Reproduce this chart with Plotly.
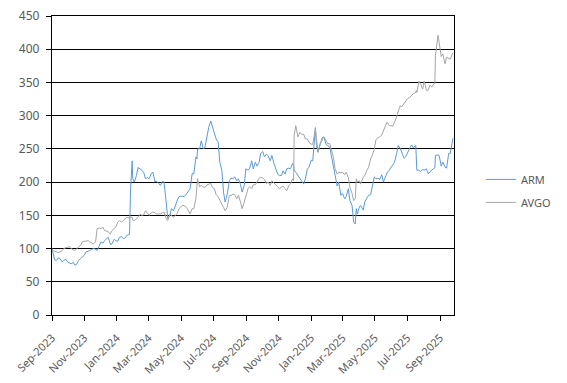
import plotly.graph_objects as go

# one line per month, aligned across the three lists
dates = [
    "2023-09-14", "2023-09-15", "2023-09-19", "2023-09-22", "2023-09-26", "2023-09-29",
    "2023-10-03", "2023-10-06", "2023-10-10", "2023-10-13", "2023-10-17", "2023-10-20", "2023-10-24", "2023-10-27", "2023-10-31",
    "2023-11-03", "2023-11-07", "2023-11-10", "2023-11-14", "2023-11-17", "2023-11-21", "2023-11-24", "2023-11-28",
    "2023-12-01", "2023-12-05", "2023-12-08", "2023-12-12", "2023-12-15", "2023-12-19", "2023-12-22", "2023-12-26", "2023-12-29",
    "2024-01-02", "2024-01-05", "2024-01-09", "2024-01-12", "2024-01-16", "2024-01-19", "2024-01-23", "2024-01-26", "2024-01-30",
    "2024-02-02", "2024-02-07", "2024-02-08", "2024-02-09", "2024-02-12", "2024-02-13", "2024-02-16", "2024-02-20", "2024-02-23", "2024-02-27",
    "2024-03-01", "2024-03-05", "2024-03-08", "2024-03-12", "2024-03-15", "2024-03-19", "2024-03-22", "2024-03-26", "2024-03-28",
    "2024-04-02", "2024-04-05", "2024-04-09", "2024-04-12", "2024-04-16", "2024-04-19", "2024-04-23", "2024-04-26", "2024-04-30",
    "2024-05-03", "2024-05-07", "2024-05-10", "2024-05-14", "2024-05-17", "2024-05-21", "2024-05-24", "2024-05-28", "2024-05-31",
    "2024-06-04", "2024-06-07", "2024-06-11", "2024-06-13", "2024-06-14", "2024-06-18", "2024-06-21", "2024-06-25", "2024-06-28",
    "2024-07-02", "2024-07-05", "2024-07-09", "2024-07-12", "2024-07-16", "2024-07-19", "2024-07-23", "2024-07-26", "2024-07-30",
    "2024-08-02", "2024-08-05", "2024-08-09", "2024-08-13", "2024-08-16", "2024-08-20", "2024-08-23", "2024-08-27", "2024-08-30",
    "2024-09-03", "2024-09-06", "2024-09-10", "2024-09-13", "2024-09-17", "2024-09-20", "2024-09-24", "2024-09-27",
    "2024-10-01", "2024-10-04", "2024-10-08", "2024-10-11", "2024-10-15", "2024-10-18", "2024-10-22", "2024-10-25", "2024-10-29",
    "2024-11-01", "2024-11-05", "2024-11-08", "2024-11-12", "2024-11-15", "2024-11-19", "2024-11-22", "2024-11-26", "2024-11-29",
    "2024-12-03", "2024-12-06", "2024-12-10", "2024-12-12", "2024-12-13", "2024-12-16", "2024-12-20", "2024-12-24", "2024-12-27", "2024-12-31",
    "2025-01-03", "2025-01-07", "2025-01-10", "2025-01-14", "2025-01-17", "2025-01-22", "2025-01-24", "2025-01-27", "2025-01-31",
    "2025-02-04", "2025-02-07", "2025-02-11", "2025-02-14", "2025-02-18", "2025-02-21", "2025-02-25", "2025-02-28",
    "2025-03-04", "2025-03-07", "2025-03-11", "2025-03-14", "2025-03-18", "2025-03-21", "2025-03-25", "2025-03-28",
    "2025-04-01", "2025-04-04", "2025-04-07", "2025-04-09", "2025-04-11", "2025-04-15", "2025-04-17", "2025-04-22", "2025-04-25", "2025-04-29",
    "2025-05-02", "2025-05-06", "2025-05-09", "2025-05-13", "2025-05-16", "2025-05-20", "2025-05-23", "2025-05-27", "2025-05-30",
    "2025-06-03", "2025-06-06", "2025-06-10", "2025-06-13", "2025-06-17", "2025-06-20", "2025-06-24", "2025-06-27",
    "2025-07-01", "2025-07-03", "2025-07-08", "2025-07-11", "2025-07-15", "2025-07-18", "2025-07-22", "2025-07-25", "2025-07-30", "2025-07-31",
    "2025-08-01", "2025-08-05", "2025-08-08", "2025-08-12", "2025-08-15", "2025-08-19", "2025-08-22", "2025-08-26", "2025-08-29",
    "2025-09-04", "2025-09-05", "2025-09-10", "2025-09-12", "2025-09-16", "2025-09-19", "2025-09-23", "2025-09-26", "2025-09-30",
    "2025-10-03", "2025-10-08",
]

arm = [
    100, 96, 83, 82, 86, 85,
    80, 82, 84, 80, 78, 77, 79, 75, 77,
    82, 85, 87, 90, 95, 96, 97, 99,
    100, 99, 97, 104, 110, 108, 112, 115, 117,
    106, 107, 114, 112, 111, 117, 118, 115, 116,
    120, 121, 181, 190, 232, 205, 200, 210, 222, 220,
    218, 214, 205, 207, 205, 213, 215, 200, 202,
    198, 195, 201, 200, 170, 145, 150, 160, 157,
    165, 173, 178, 179, 178, 179, 182, 186, 190,
    213, 212, 238, 235, 250, 250, 262, 250, 252,
    268, 282, 292, 283, 272, 265, 260, 230, 217,
    185, 170, 182, 202, 206, 205, 208, 202, 205,
    196, 185, 195, 220, 218, 220, 232, 220,
    230, 224, 230, 243, 246, 238, 242, 240, 232,
    240, 228, 222, 212, 210, 210, 217, 212, 220,
    221, 220, 228, 225, 218, 215, 210, 205, 202, 197,
    205, 220, 222, 233, 232, 282, 255, 245, 257,
    267, 268, 257, 255, 253, 240, 222, 207,
    194, 200, 180, 183, 175, 178, 190, 172,
    165, 140, 137, 160, 152, 163, 165, 158, 170, 176,
    180, 181, 195, 208, 205, 206, 204, 211, 200,
    208, 214, 218, 222, 227, 230, 243, 255,
    250, 245, 236, 238, 246, 250, 256, 252, 255, 222,
    218, 218, 216, 219, 218, 220, 213, 215, 218,
    222, 240, 241, 240, 224, 230, 223, 221, 243,
    243, 266,
]

avgo = [
    100, 97, 96, 95, 94, 95,
    97, 100, 101, 102, 103, 100, 98, 97, 100,
    102, 105, 110, 111, 112, 112, 110, 108,
    107, 110, 130, 131, 130, 132, 127, 126, 125,
    122, 127, 130, 132, 140, 142, 140, 142, 145,
    147, 146, 148, 147, 147, 143, 142, 145, 147, 152,
    150, 151, 157, 153, 150, 154, 155, 154, 152,
    152, 152, 154, 155, 145, 142, 152, 150, 147,
    150, 153, 160, 163, 165, 164, 162, 157, 152,
    160, 160, 175, 205, 205, 193, 195, 193, 192,
    196, 197, 198, 192, 190, 181, 178, 173, 165,
    162, 157, 162, 180, 180, 182, 181, 175, 180,
    170, 160, 170, 180, 190, 193, 190, 196,
    196, 200, 206, 207, 206, 204, 198, 200, 195,
    202, 199, 197, 193, 190, 192, 194, 190, 187,
    195, 197, 205, 202, 270, 285, 268, 275, 272, 272,
    265, 265, 260, 257, 257, 280, 265, 245, 258,
    263, 268, 263, 258, 258, 248, 237, 220,
    212, 215, 214, 215, 211, 215, 207, 192,
    183, 172, 175, 205, 200, 202, 197, 207, 210, 218,
    222, 235, 240, 250, 264, 267, 268, 271, 278,
    285, 290, 285, 285, 284, 290, 298, 307,
    315, 313, 319, 322, 326, 327, 331, 333, 335, 338,
    335, 352, 348, 340, 352, 338, 338, 346, 343,
    350, 390, 421, 410, 389, 393, 378, 388, 386,
    385, 395,
]

tick_vals = ["2023-09-14", "2023-11-14", "2024-01-14", "2024-03-14", "2024-05-14",
             "2024-07-14", "2024-09-14", "2024-11-14", "2025-01-14", "2025-03-14",
             "2025-05-14", "2025-07-14", "2025-09-14"]
tick_text = ["Sep-2023", "Nov-2023", "Jan-2024", "Mar-2024", "May-2024", "Jul-2024",
             "Sep-2024", "Nov-2024", "Jan-2025", "Mar-2025", "May-2025", "Jul-2025",
             "Sep-2025"]

fig = go.Figure()
fig.add_trace(go.Scatter(x=dates, y=arm, name="ARM", mode="lines",
                         line=dict(color="#5B9BD5", width=1), legendgroup="a"))
fig.add_trace(go.Scatter(x=dates, y=avgo, name="AVGO", mode="lines",
                         line=dict(color="#A5A5A5", width=1), legendgroup="b"))

font_color = "#595959"
fig.update_layout(
    width=567, height=383,
    margin=dict(l=52, r=113, t=16, b=68, autoexpand=False),
    paper_bgcolor="white", plot_bgcolor="white",
    font=dict(family="Noto Sans, sans-serif", size=11, color=font_color),
    showlegend=True,
    legend=dict(x=1.067, y=0.415, xanchor="left", yanchor="middle",
                font=dict(size=11, color=font_color), tracegroupgap=4,
                bgcolor="rgba(0,0,0,0)"),
    hovermode=False,
)
fig.update_xaxes(
    type="date", range=["2023-09-14", "2025-10-10"], automargin=False,
    tickmode="array", tickvals=tick_vals, ticktext=tick_text, tickangle=-45,
    ticks="outside", ticklen=5, tickcolor="black", tickwidth=1,
    showline=True, linecolor="black", linewidth=1.3, mirror=True,
    showgrid=False, zeroline=False,
    tickfont=dict(size=11, color=font_color), ticklabelstandoff=6,
)
fig.update_yaxes(
    range=[0, 450], dtick=50, tick0=0, automargin=False,
    ticks="outside", ticklen=5, tickcolor="black", tickwidth=1,
    showline=True, linecolor="black", linewidth=1.3, mirror=True,
    showgrid=True, gridcolor="black", gridwidth=1.3, zeroline=False,
    tickfont=dict(size=12, color=font_color), ticklabelstandoff=4,
)

fig.write_html("out.html", config={"displayModeBar": False},
               post_script="document.body.style.margin='0';")
